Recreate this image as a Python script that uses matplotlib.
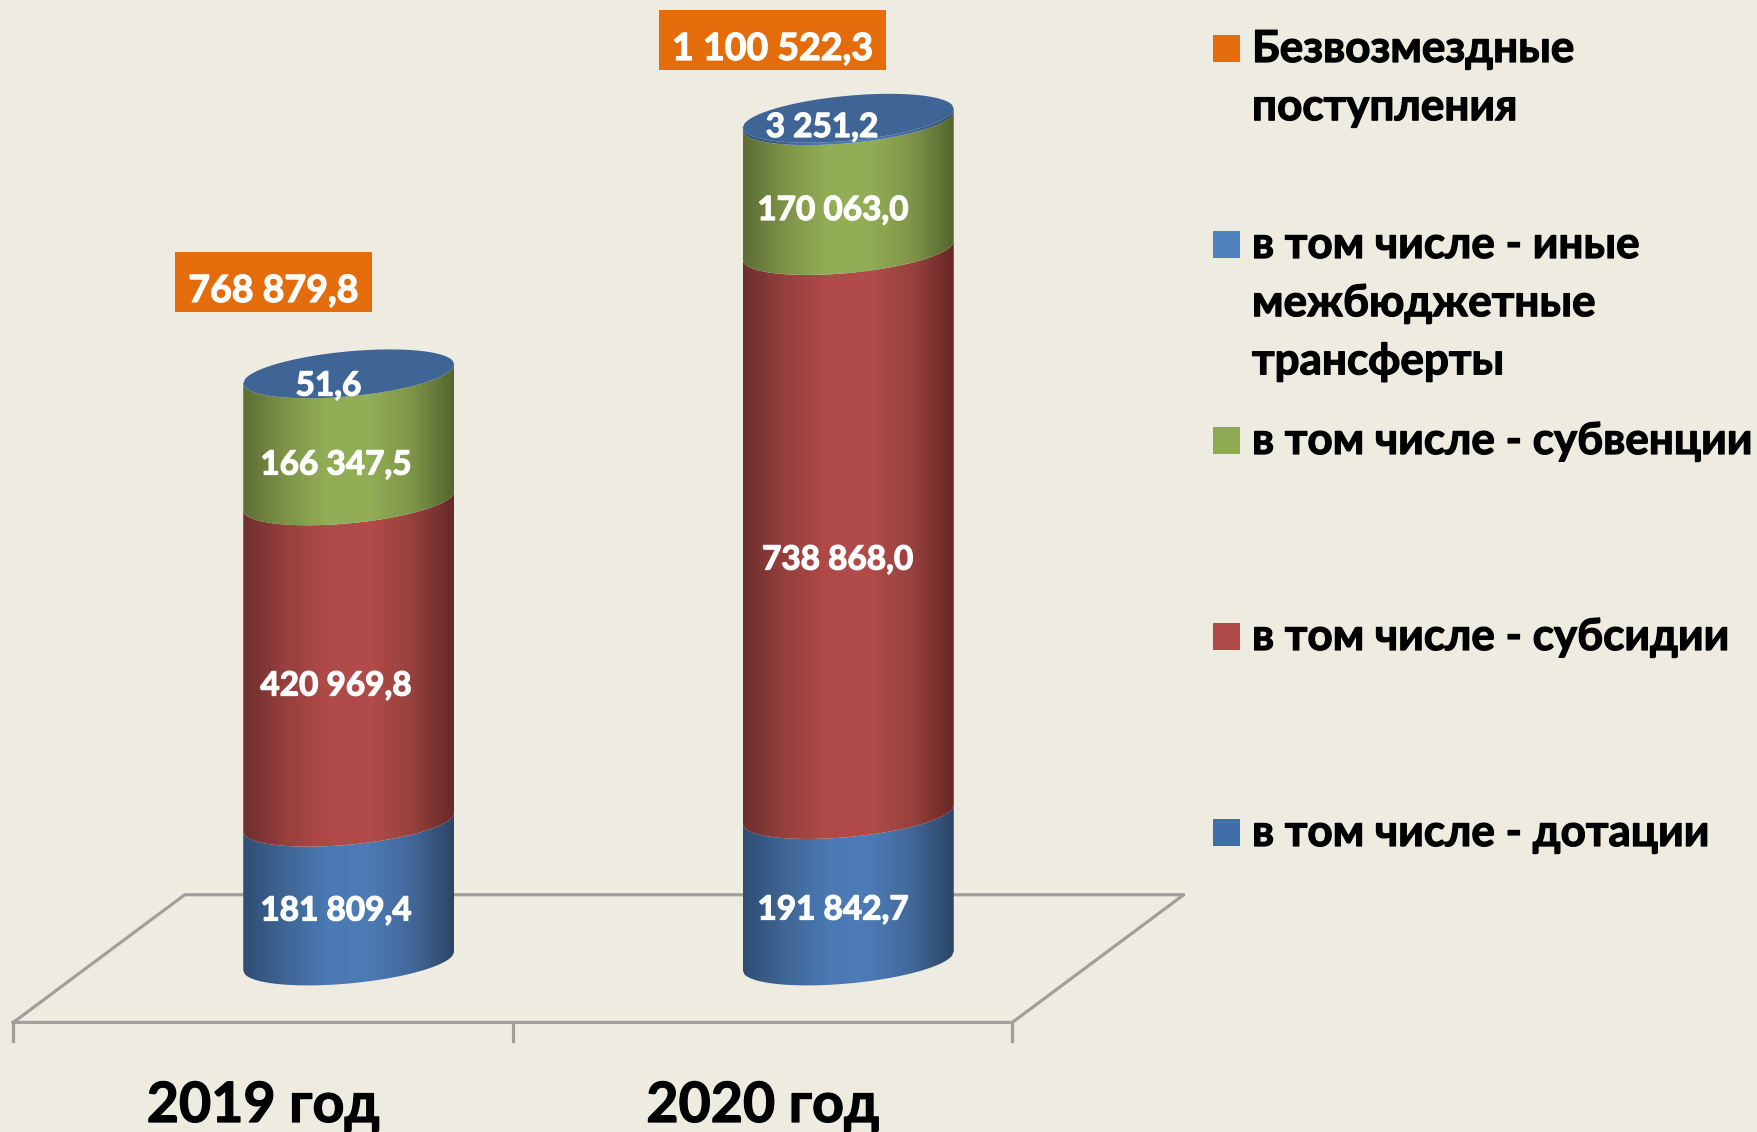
import numpy as np
import matplotlib
matplotlib.use('Agg')
import matplotlib.pyplot as plt
import matplotlib.patheffects as pe
from matplotlib.colors import LinearSegmentedColormap
from matplotlib.patches import PathPatch, Rectangle
from matplotlib.path import Path

plt.rcParams['font.family'] = ['Lato', 'Noto Sans', 'DejaVu Sans']

years = ["2019 год", "2020 год"]
dotacii = [181809.4, 191842.7]
subsidii = [420969.8, 738868.0]
subvencii = [166347.5, 170063.0]
inye = [51.6, 3251.2]
totals = ["768 879,8", "1 100 522,3"]
seg_labels = [["181 809,4", "420 969,8", "166 347,5", "51,6"],
              ["191 842,7", "738 868,0", "170 063,0", "3 251,2"]]
legend_labels = ["Безвозмездные\nпоступления",
                 "в том числе - иные\nмежбюджетные\nтрансферты",
                 "в том числе - субвенции",
                 "в том числе - субсидии",
                 "в том числе - дотации"]

BG = "#eeece1"
W, H = 1758, 1132
PX_X = 499.5            # pixels per category
PX_Y = 1 / 1310.0       # pixels per unit of value
X0 = 263.0              # pixel of category 0 on the front floor edge
Y0 = 961.0              # pixel of value 0

fig = plt.figure(figsize=(W / 100, H / 100), dpi=100, facecolor=BG)
ax = fig.add_axes([0, 0, 1, 1])
ax.set_facecolor(BG)
ax.axis("off")
xlim = (-X0 / PX_X, (W - X0) / PX_X)
ylim = ((Y0 - H) / PX_Y, Y0 / PX_Y)

# floor
floor_x = (-0.5, 1.5)
depth_x = 171.5 / PX_X
front_y = -80500
back_y = 86800
ax.plot([floor_x[0], floor_x[1], floor_x[1] + depth_x, floor_x[0] + depth_x, floor_x[0]],
        [front_y, front_y, back_y, back_y, front_y], color="#a0a099", lw=2.3, zorder=1)
tick_bottom = front_y - 19 / PX_Y
for t in (-0.5, 0.5, 1.5):
    ax.plot([t, t], [front_y, tick_bottom], color="#a0a099", lw=2.3, zorder=1)

# cylinders
rx = 105.5 / PX_X
ry = 22.5 / PX_Y
shear = 9.5 / PX_Y
u = np.linspace(-1, 1, 121)
blue_stops = ["#2e4e75", "#3f6695", "#4a79b3", "#4c7bb5", "#42689a", "#2c4566"]
red_stops = ["#6d2f2e", "#96403e", "#b04a48", "#b14c4a", "#98413e", "#672826"]
green_stops = ["#5c6e35", "#7d9348", "#92ae55", "#91ad55", "#7f9649", "#53652e"]
top_color = "#3e6595"
gradient = np.linspace(0, 1, 256).reshape(1, -1)


def front_arc(cx, cy):
    # lower front edge of the tilted ellipse, right side sits higher
    return cx + rx * u, cy + shear * u - ry * np.sqrt(1 - u ** 2)


for i in range(len(years)):
    cx = i + depth_x / 2
    base = 0.0
    segs = [(dotacii[i], blue_stops), (subsidii[i], red_stops), (subvencii[i], green_stops), (inye[i], blue_stops)]
    for val, stops in segs:
        xb, yb = front_arc(cx, base)
        xt, yt = front_arc(cx, base + val)
        verts = np.vstack([np.column_stack([xb, yb]), np.column_stack([xt[::-1], yt[::-1]]), [[xb[0], yb[0]]]])
        clip = PathPatch(Path(verts), transform=ax.transData, fc="none", ec="none")
        ax.add_patch(clip)
        cmap = LinearSegmentedColormap.from_list("cyl", stops)
        im = ax.imshow(gradient, cmap=cmap, aspect="auto", zorder=2, interpolation="bilinear",
                       extent=(cx - rx, cx + rx, base - 40 / PX_Y, base + val + 40 / PX_Y))
        im.set_clip_path(clip)
        base += val
    # top lid
    xt, yt = front_arc(cx, base)
    yup = base + shear * u + ry * np.sqrt(1 - u ** 2)
    ax.fill(np.r_[xt, xt[::-1]], np.r_[yt, yup[::-1]], color=top_color, lw=0, zorder=3)

ax.set_xlim(*xlim)
ax.set_ylim(*ylim)


def fx(px):
    return px / W


def fy(py):
    return 1 - py / H


def heavy(color):
    # the reference face is heavier than Lato bold
    return [pe.withStroke(linewidth=0.9, foreground=color)]


# value labels
seg_pos = [[(336, 911), (336, 686), (336, 465), (328.5, 386)],
           [(833, 910), (837.5, 560), (833, 210.5), (822, 127.5)]]
for i in range(len(years)):
    for txt, (px, py) in zip(seg_labels[i], seg_pos[i]):
        fig.text(fx(px), fy(py), txt, color="white", fontsize=24, fontweight="bold",
                 ha="center", va="center", zorder=5, path_effects=heavy("white"))

# total labels
boxes = [(175, 252, 197, 60), (659, 10, 227, 60)]
for txt, (bx, by, bw, bh) in zip(totals, boxes):
    fig.patches.append(Rectangle((fx(bx), fy(by + bh)), bw / W, bh / H, transform=fig.transFigure,
                                 fc="#e46c0a", ec="none", zorder=4))
    fig.text(fx(bx + bw / 2), fy(by + bh / 2 + 9), txt, color="white", fontsize=27, fontweight="bold",
             ha="center", va="center", zorder=5, path_effects=heavy("white"))

# category labels
for i, y in enumerate(years):
    ax.text(i, (Y0 - 1106) / PX_Y, y, color="black", fontsize=40, fontweight="bold",
            ha="center", va="center", clip_on=False, path_effects=heavy("black"))

# legend
leg_colors = ["#e46c0a", "#4f81bd", "#8eab54", "#b04a48", "#3f6ea8"]
leg_y = [48, 244, 440, 636, 832]
for lab, col, ly in zip(legend_labels, leg_colors, leg_y):
    fig.patches.append(Rectangle((fx(1212.5), fy(ly + 13.5)), 27 / W, 27 / H, transform=fig.transFigure,
                                 fc=col, ec="none"))
    fig.text(fx(1252), fy(ly - 19), lab, color="black", fontsize=31.7, fontweight="bold",
             ha="left", va="top", linespacing=1.55, zorder=5, path_effects=heavy("black"))

fig.savefig("out.png", dpi=100, facecolor=BG)
